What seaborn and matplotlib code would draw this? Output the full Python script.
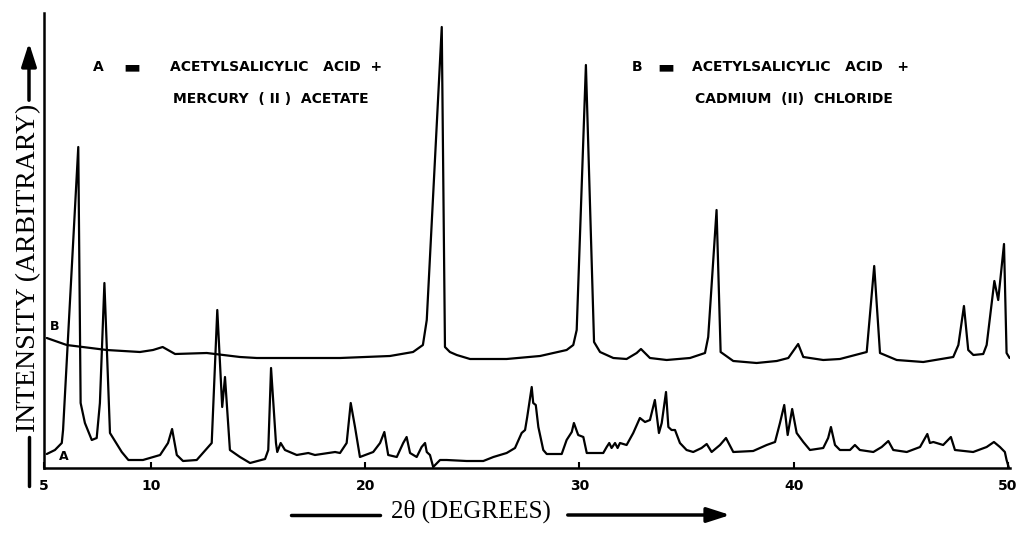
"""
X-ray powder diffraction patterns of two acetylsalicylic acid mixtures.
"""
import pandas as pd
import matplotlib
matplotlib.use("Agg")
import matplotlib.pyplot as plt
import seaborn as sns

# Trace A - acetylsalicylic acid + mercury (II) acetate
two_theta_a = [5.13, 5.51, 5.83, 5.89, 6.60, 6.71, 6.91, 7.23, 7.46, 7.61,
               7.82, 8.08, 8.63, 8.94, 9.62, 10.42, 10.79, 10.98, 11.20, 11.49,
               12.13, 12.83, 13.09, 13.32, 13.45, 13.68, 14.15, 14.62, 15.32, 15.47,
               15.60, 15.83, 15.89, 16.05, 16.25, 16.80, 17.34, 17.65, 18.27, 18.59,
               18.82, 19.13, 19.32, 19.52, 19.75, 20.37, 20.69, 20.89, 21.07, 21.47,
               21.77, 21.93, 22.09, 22.40, 22.63, 22.79, 22.87, 23.02, 23.17, 23.49,
               23.80, 24.73, 25.51, 25.98, 26.60, 26.99, 27.30, 27.46, 27.56, 27.77,
               27.84, 27.96, 28.08, 28.31, 28.47, 29.17, 29.40, 29.64, 29.74, 29.94,
               30.18, 30.34, 31.11, 31.27, 31.39, 31.50, 31.66, 31.78, 31.89, 32.20,
               32.51, 32.82, 33.06, 33.29, 33.52, 33.71, 33.84, 34.04, 34.15, 34.30,
               34.46, 34.69, 35.00, 35.31, 35.70, 35.94, 36.17, 36.56, 36.84, 37.18,
               38.11, 38.74, 39.13, 39.36, 39.56, 39.72, 39.93, 40.14, 40.45, 40.76,
               41.38, 41.61, 41.74, 41.93, 42.16, 42.63, 42.86, 43.09, 43.72, 44.11,
               44.42, 44.65, 45.28, 45.90, 46.24, 46.36, 46.52, 46.98, 47.34, 47.53,
               48.38, 49.01, 49.35, 49.63, 49.86, 49.94, 50.05]
intensity_a = [14, 18, 25, 38, 321, 65, 45, 28, 30, 65,
               185, 35, 16, 8, 8, 13, 25, 39, 13, 7,
               8, 25, 158, 61, 91, 18, 11, 5, 9, 18,
               100, 25, 16, 25, 18, 13, 15, 13, 15, 16,
               15, 25, 65, 41, 11, 16, 25, 36, 13, 11,
               25, 31, 15, 11, 21, 25, 16, 13, 1, 8,
               8, 7, 7, 11, 15, 20, 35, 38, 51, 81,
               65, 63, 41, 18, 14, 14, 28, 36, 45, 33,
               31, 15, 15, 21, 25, 20, 25, 20, 25, 23,
               35, 50, 46, 48, 68, 35, 45, 76, 41, 38,
               38, 25, 18, 16, 20, 24, 16, 23, 30, 16,
               17, 23, 26, 45, 63, 33, 59, 35, 26, 18,
               20, 30, 41, 23, 18, 18, 23, 18, 16, 21,
               27, 18, 16, 21, 34, 25, 26, 23, 31, 18,
               16, 21, 26, 21, 16, 8, 0]

# Trace B - acetylsalicylic acid + cadmium (II) chloride
two_theta_b = [5.13, 6.06, 7.93, 9.48, 10.09, 10.54, 11.12, 12.60, 14.15, 14.93,
               18.82, 21.15, 22.23, 22.69, 22.87, 23.57, 23.72, 23.95, 24.27, 24.89,
               26.60, 28.16, 29.40, 29.71, 29.87, 30.30, 30.68, 30.96, 31.58, 32.20,
               32.67, 32.87, 33.29, 34.07, 35.16, 35.86, 36.01, 36.40, 36.59, 37.18,
               38.27, 39.21, 39.75, 40.21, 40.45, 41.38, 42.16, 43.41, 43.76, 44.03,
               44.81, 46.05, 47.45, 47.69, 47.95, 48.15, 48.39, 48.85, 49.01, 49.37,
               49.55, 49.82, 49.94, 50.08]
intensity_b = [130, 123, 118, 116, 118, 121, 114, 115, 111, 110,
               110, 112, 116, 123, 148, 441, 121, 116, 113, 109,
               109, 112, 118, 123, 138, 403, 126, 116, 110, 109,
               115, 119, 110, 108, 110, 115, 131, 258, 116, 107,
               105, 107, 110, 124, 111, 108, 109, 116, 202, 115,
               108, 106, 111, 123, 162, 118, 113, 114, 123, 187,
               168, 224, 115, 110]

x_ticks = [5, 10, 20, 30, 40, 50]
x_tick_labels = ['5', '10', '20', '30', '40', '50']

sns.set_style("white")
plt.rcParams['font.family'] = ['DejaVu Sans']
plt.rcParams['text.color'] = 'black'

W, H = 1020, 534


def fx(px):
    return px / W


def fy(py):
    return 1 - py / H


fig = plt.figure(figsize=(W / 100, H / 100), dpi=100)
ax = fig.add_axes([fx(44), fy(468), fx(1010) - fx(44), fy(13) - fy(468)])

df_a = pd.DataFrame({'two_theta': two_theta_a, 'intensity': intensity_a})
df_b = pd.DataFrame({'two_theta': two_theta_b, 'intensity': intensity_b})

sns.lineplot(data=df_a, x='two_theta', y='intensity', sort=False, estimator=None,
             color='black', lw=1.6, ax=ax)
sns.lineplot(data=df_b, x='two_theta', y='intensity', sort=False, estimator=None,
             color='black', lw=1.6, ax=ax)

ax.set_xlim(5, 50.1)
ax.set_ylim(0, 455)
ax.set_xlabel('')
ax.set_ylabel('')
ax.set_yticks([])
ax.set_xticks(x_ticks)
ax.set_xticklabels(x_tick_labels, fontweight='bold', fontsize=10)
ax.tick_params(axis='x', direction='in', length=4, width=1.5, pad=8,
               bottom=True, colors='black')

for side in ['top', 'right']:
    ax.spines[side].set_visible(False)
for side in ['left', 'bottom']:
    ax.spines[side].set_color('black')
    ax.spines[side].set_linewidth(1.8)

# Curve labels
fig.text(fx(55), fy(327), 'B', fontsize=9, fontweight='bold', ha='center', va='center')
fig.text(fx(64), fy(456), 'A', fontsize=9, fontweight='bold', ha='center', va='center')

# Sample descriptions
txt = dict(fontsize=10, fontweight='bold', va='center', ha='left', color='black')
dash = dict(fontsize=13, fontweight='bold', va='center', ha='center', color='black')
fig.text(fx(93), fy(67), 'A', **txt)
fig.text(fx(132), fy(67), '▬', **dash)
fig.text(fx(170), fy(67), 'ACETYLSALICYLIC   ACID  +', **txt)
fig.text(fx(173), fy(99), 'MERCURY  ( II )  ACETATE', **txt)

fig.text(fx(632), fy(67), 'B', **txt)
fig.text(fx(666), fy(67), '▬', **dash)
fig.text(fx(692), fy(67), 'ACETYLSALICYLIC   ACID   +', **txt)
fig.text(fx(695), fy(99), 'CADMIUM  (II)  CHLORIDE', **txt)

# Y axis label with arrow
fig.text(fx(29), fy(268), 'INTENSITY (ARBITRARY)', rotation=90, fontsize=20,
         family='Liberation Serif', ha='center', va='center', color='black')
fig.add_artist(plt.Line2D([fx(29), fx(29)], [fy(437), fy(486)],
                          transform=fig.transFigure, color='black', lw=2.5))
ax.annotate('', xy=(fx(29), fy(40)), xytext=(fx(29), fy(103)),
            xycoords='figure fraction', textcoords='figure fraction',
            annotation_clip=False,
            arrowprops=dict(arrowstyle='-|>,head_length=1.4,head_width=0.45',
                            lw=2.5, color='black'))

# X axis label with arrow
fig.text(fx(471), fy(511), '2θ (DEGREES)', fontsize=18,
         family='Liberation Serif', ha='center', va='center', color='black')
fig.add_artist(plt.Line2D([fx(291), fx(380)], [fy(515), fy(515)],
                          transform=fig.transFigure, color='black', lw=2.5))
ax.annotate('', xy=(fx(733), fy(515)), xytext=(fx(565), fy(515)),
            xycoords='figure fraction', textcoords='figure fraction',
            annotation_clip=False,
            arrowprops=dict(arrowstyle='-|>,head_length=1.4,head_width=0.45',
                            lw=2.5, color='black'))

plt.savefig('out.png', dpi=100)
